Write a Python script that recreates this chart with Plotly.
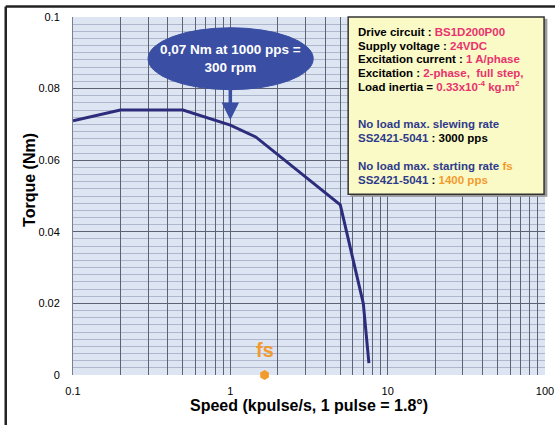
import math
import plotly.graph_objects as go

# data
speed_k = [0.1, 0.2, 0.5, 1.0, 1.45, 5.0, 7.0, 7.6]
torque = [0.071, 0.074, 0.074, 0.0698, 0.0665, 0.0475, 0.020, 0.0033]
fs_speed = [1.65]
fs_torque = [0.0]
x_major = [0.1, 1, 10, 100]
x_major_text = ["0.1", "1", "10", "100"]
x_grid = [m * 10**e for e in (-1, 0, 1) for m in range(1, 10)] + [100]
y_ticks = [0, 0.02, 0.04, 0.06, 0.08, 0.1]
y_ticktext = ["0", "0.02", "0.04", "0.06", "0.08", "0.1"]

FONT = "Liberation Sans, Arial, sans-serif"
NAVY = "#2b2d7c"
BLUE = "#3a4fa3"
PINK = "#e8326e"
ORANGE = "#f39a2e"
TXTBLUE = "#2e3a8c"

fig = go.Figure()
fig.add_trace(go.Scatter(x=speed_k, y=torque, mode="lines",
                         line=dict(color=NAVY, width=3), hoverinfo="skip"))
fig.add_trace(go.Scatter(x=fs_speed, y=fs_torque, mode="markers",
                         marker=dict(color=ORANGE, size=10, symbol="hexagon"),
                         cliponaxis=False, hoverinfo="skip"))

fig.update_layout(
    width=555, height=425,
    margin=dict(l=73, r=10, t=17, b=50, autoexpand=False),
    paper_bgcolor="white", plot_bgcolor="#dde4f2",
    showlegend=False,
    font=dict(family=FONT, color="black"),
    xaxis=dict(type="log", range=[-1, 2], tickmode="array", automargin=False,
               tickvals=x_grid,
               ticktext=[x_major_text[x_major.index(v)] if v in x_major else "" for v in x_grid],
               showgrid=True, gridcolor="#5d6274", gridwidth=1,
               ticks="outside", ticklen=6, tickcolor="rgba(0,0,0,0)",
               tickfont=dict(size=11, color="black"),
               zeroline=False, showline=False,
               title=dict(text="<b>Speed (kpulse/s, 1 pulse = 1.8°)</b>",
                          font=dict(size=16, color="black"), standoff=0)),
    yaxis=dict(range=[0, 0.1], tickmode="array", tickvals=y_ticks, ticktext=y_ticktext,
               automargin=False,
               showgrid=True, gridcolor="#5d6274", gridwidth=1,
               minor=dict(dtick=0.002, showgrid=True, gridcolor="#aeb7cb", gridwidth=1),
               ticks="outside", ticklen=10, tickcolor="rgba(0,0,0,0)",
               tickfont=dict(size=11, color="black"),
               zeroline=False, showline=True, linecolor="#7a7f90", linewidth=1),
)

# y title placed to match the reference position
fig.add_annotation(xref="paper", yref="paper", x=(30 - 73) / 472, y=0.545, textangle=-90,
                   text="<b>Torque (Nm)</b>", showarrow=False, xanchor="center", yanchor="middle",
                   font=dict(size=16, color="black", family=FONT))

shapes = []
# outer frame (top and left edges)
shapes.append(dict(type="line", xref="paper", yref="paper", x0=-0.1425, x1=-0.1425,
                   y0=-0.2, y1=1.029, line=dict(color="#222", width=2.5)))
shapes.append(dict(type="line", xref="paper", yref="paper", x0=-0.1425, x1=1.05,
                   y0=1.029, y1=1.029, line=dict(color="#222", width=2.5)))
# callout ellipse
shapes.append(dict(type="circle", xref="paper", yref="paper", x0=0.159, x1=0.509,
                   y0=0.797, y1=0.97, fillcolor=BLUE, line=dict(color=BLUE, width=1)))
# info box shadow + box
shapes.append(dict(type="rect", xref="paper", yref="paper", x0=0.588, x1=1.005,
                   y0=0.498, y1=0.995, fillcolor="#9a9a9a", line=dict(width=0)))
shapes.append(dict(type="rect", xref="paper", yref="paper", x0=0.583, x1=0.998,
                   y0=0.505, y1=1.0, fillcolor="#fafac6", line=dict(color="#333", width=1.5)))
fig.update_layout(shapes=shapes)

info_lines = [
    ("Drive circuit : <span style='color:%s'>BS1D200P00</span>" % PINK, 32),
    ("Supply voltage : <span style='color:%s'>24VDC</span>" % PINK, 45.5),
    ("Excitation current : <span style='color:%s'>1 A/phase</span>" % PINK, 59),
    ("Excitation : <span style='color:%s'>2-phase,  full step,</span>" % PINK, 72.5),
    ("Load inertia = <span style='color:%s'>0.33x10<sup>-4</sup> kg.m<sup>2</sup></span>" % PINK, 86),
    ("<span style='color:%s'>No load max. slewing rate</span>" % TXTBLUE, 124),
    ("<span style='color:%s'>SS2421-5041</span> : 3000 pps" % TXTBLUE, 138),
    ("<span style='color:%s'>No load max. starting rate </span><span style='color:%s'>fs</span>" % (TXTBLUE, ORANGE), 166),
    ("<span style='color:%s'>SS2421-5041</span> : <span style='color:%s'>1400 pps</span>" % (TXTBLUE, ORANGE), 180),
]
for txt, ypx in info_lines:
    fig.add_annotation(xref="paper", yref="paper", x=(356 - 73) / 472, y=(375 - ypx) / 358,
                       xanchor="left", yanchor="middle", text="<b>" + txt + "</b>",
                       showarrow=False, align="left",
                       font=dict(size=11.5, color="black", family=FONT))

fig.add_annotation(xref="paper", yref="paper", x=0.334, y=0.884, xanchor="center", yanchor="middle",
                   text="<b>0,07 Nm at 1000 pps =<br>300 rpm</b>", showarrow=False,
                   font=dict(size=13.5, color="white", family=FONT))

fig.add_annotation(x=0, y=0.0712, xref="x", yref="y", ax=0, ay=-32, text="",
                   showarrow=True, arrowhead=2, arrowsize=1, arrowwidth=3.5, arrowcolor=BLUE)

fig.add_annotation(x=math.log10(fs_speed[0]), y=fs_torque[0], xref="x", yref="y",
                   text="<b>fs</b>", showarrow=False, yshift=25, yanchor="middle",
                   font=dict(size=20, color=ORANGE, family=FONT))

fig.write_html("out.html", post_script="document.body.style.margin='0';",
               config={"displayModeBar": False})
